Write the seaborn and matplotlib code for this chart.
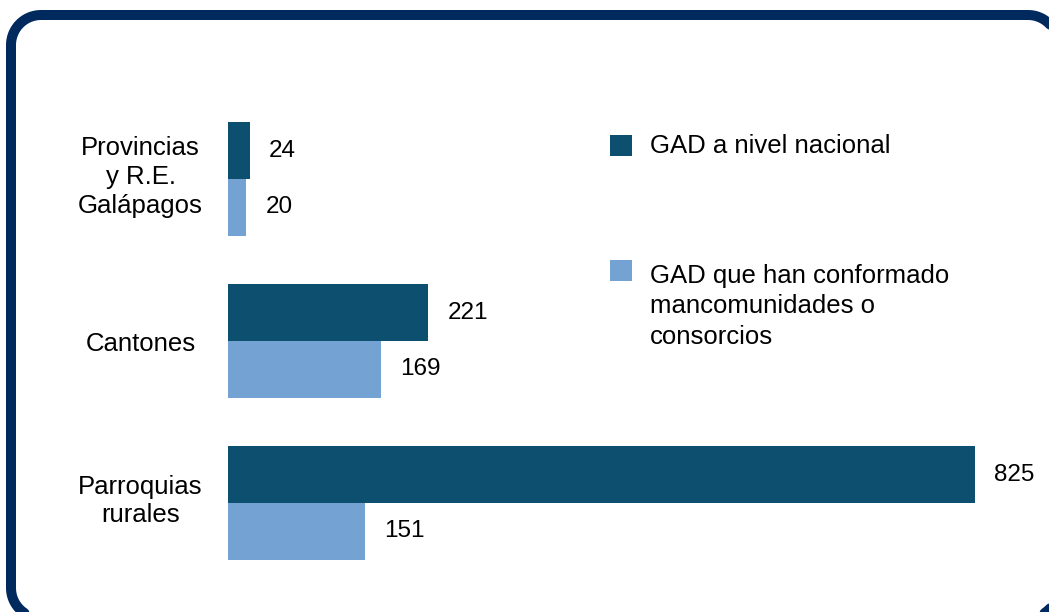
import matplotlib
matplotlib.use("Agg")
import matplotlib.pyplot as plt
from matplotlib.patches import Rectangle
from matplotlib.lines import Line2D
from matplotlib.transforms import IdentityTransform, ScaledTranslation
import numpy as np
import seaborn as sns
import pandas as pd

sns.set_theme(style="white")
plt.rcParams["font.family"] = ["Liberation Sans", "DejaVu Sans"]

# data
categorias = ["Provincias\ny R.E.\nGalápagos", "Cantones", "Parroquias\nrurales"]
gad_nacional = [24, 221, 825]
gad_mancomunidades = [20, 169, 151]
series = ["GAD a nivel nacional", "GAD que han conformado\nmancomunidades o\nconsorcios"]
colores = ["#0c4f6e", "#74a3d3"]

rows = []
for cat, v in zip(categorias, gad_nacional):
    rows.append([cat, series[0], v])
for cat, v in zip(categorias, gad_mancomunidades):
    rows.append([cat, series[1], v])
df = pd.DataFrame(rows, columns=["categoria", "serie", "valor"])

W, H = 1049, 612
fig = plt.figure(figsize=(W / 100, H / 100), dpi=100)


def fx(x):
    return x / W


def fy(y):
    return 1 - y / H


ax = fig.add_axes([fx(228), fy(584), fx(1040) - fx(228), fy(98) - fy(584)])
sns.barplot(
    data=df,
    y="categoria",
    x="valor",
    hue="serie",
    orient="h",
    palette=colores,
    saturation=1,
    width=0.7,
    legend=False,
    linewidth=0,
    ax=ax,
)
ax.set_xlim(0, 897)
ax.set_ylim(2.5, -0.5)
for cont in ax.containers:
    ax.bar_label(cont, padding=14, fontsize=17.5, color="black")

ax.set_xticks([])
ax.set_xlabel("")
ax.set_ylabel("")
ax.tick_params(axis="y", length=0, pad=63)
plt.setp(ax.get_yticklabels(), ha="center", fontsize=18.5, color="black", linespacing=1.25)
# multi-line labels sit a little higher in the original
for lab in ax.get_yticklabels():
    if "\n" in lab.get_text():
        lab.set_transform(lab.get_transform() + ScaledTranslation(0, 0.07, fig.dpi_scale_trans))
sns.despine(ax=ax, left=True, bottom=True)
ax.set_facecolor("none")

# legend drawn by hand so the square sits on the first text line
for top, color in [(135, colores[0]), (260, colores[1])]:
    fig.add_artist(Rectangle((fx(610), fy(top + 21)), fx(22), fy(top) - fy(top + 21),
                             transform=fig.transFigure, color=color, lw=0))
fig.text(fx(650), fy(153), series[0], fontsize=18.5, va="baseline", ha="left", color="black")
fig.text(fx(650), fy(344), series[1], fontsize=18.5, va="baseline", ha="left",
         color="black", linespacing=1.35)

# rounded frame as a polyline in pixel coords (y up), partly off the canvas
x0, x1, y0, y1, r = 11, 1058, H - 618, H - 15, 30
xs, ys = [], []
for cx, cy, a0 in [(x1 - r, y1 - r, 0), (x0 + r, y1 - r, 90),
                   (x0 + r, y0 + r, 180), (x1 - r, y0 + r, 270)]:
    t = np.radians(np.linspace(a0, a0 + 90, 20))
    xs.extend(cx + r * np.cos(t))
    ys.extend(cy + r * np.sin(t))
xs.append(xs[0])
ys.append(ys[0])
fig.add_artist(Line2D(xs, ys, transform=IdentityTransform(), color="#00295e",
                      linewidth=7.2, solid_joinstyle="round"))

fig.savefig("out.png", dpi=100)
